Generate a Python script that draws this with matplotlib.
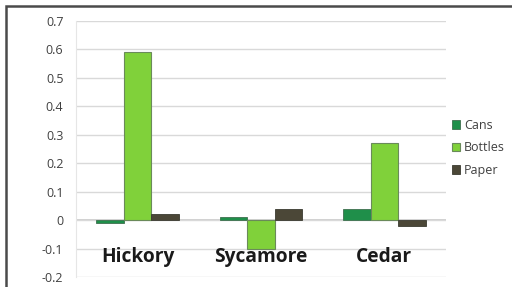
import numpy as np
import matplotlib.pyplot as plt
from matplotlib.patches import Rectangle

# donnees
sites = ["Hickory", "Sycamore", "Cedar"]
cans = [-0.01, 0.01, 0.04]
bottles = [0.59, -0.10, 0.27]
paper = [0.02, 0.04, -0.02]
yticks = [-0.2, -0.1, 0, 0.1, 0.2, 0.3, 0.4, 0.5, 0.6, 0.7]
ytick_labels = ["-0.2", "-0.1", "0", "0.1", "0.2", "0.3", "0.4", "0.5", "0.6", "0.7"]

plt.rcParams['font.family'] = ['Open Sans', 'DejaVu Sans']

fig = plt.figure(figsize=(5.12, 2.87), dpi=100)
ax = fig.add_axes([0.1484, 0.0348, 0.7226, 0.892])

x = np.arange(len(sites))
w = 0.223
b1 = ax.bar(x - w, cans, w, color="#1f8f4a", edgecolor="#3f6f4f", linewidth=0.6, label="Cans", zorder=3)
b2 = ax.bar(x, bottles, w, color="#80d13a", edgecolor="#6a8a5a", linewidth=0.8, label="Bottles", zorder=3)
b3 = ax.bar(x + w, paper, w, color="#4b4737", edgecolor="#3a3a30", linewidth=0.6, label="Paper", zorder=3)

ax.set_xlim(-0.5, 2.5)
ax.set_ylim(-0.2, 0.7)
ax.set_yticks(yticks)
ax.set_yticklabels(ytick_labels)
ax.set_xticks([])
ax.tick_params(axis='y', length=0, pad=9, labelsize=9, labelcolor="#404040")
ax.grid(axis='y', color="#d9d9d9", linewidth=1.0, zorder=0)
ax.axhline(0, color="#c8c8c8", linewidth=1.2, zorder=1)
for s in ["top", "right", "bottom"]:
    ax.spines[s].set_visible(False)
ax.spines["left"].set_color("#e6e6e6")

for i, s in enumerate(sites):
    ax.text(x[i], -0.13, s, ha="center", va="center", fontsize=13.8,
            fontweight="bold", color="#1a1a1a")

fig.legend(handles=[b1, b2, b3], loc="center left", bbox_to_anchor=(0.86, 0.485),
           frameon=False, fontsize=9, handlelength=0.7, handleheight=0.7,
           handletextpad=0.3, labelspacing=0.75, labelcolor="#404040")

# cadre exterieur
fig.patches.append(Rectangle((0.011, -0.05), 1.2, 1.028, transform=fig.transFigure,
                             fill=False, edgecolor="#4a4a4a", linewidth=1.8))

fig.savefig("out.png", dpi=100)
